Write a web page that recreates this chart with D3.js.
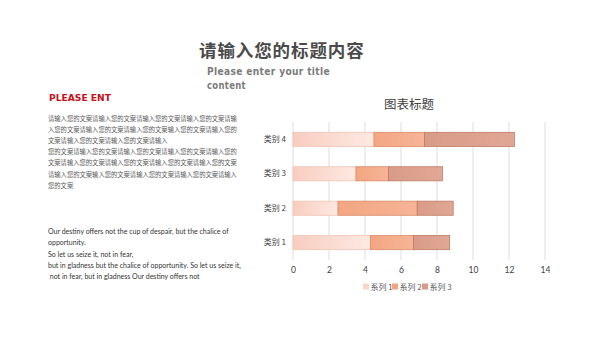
<!DOCTYPE html>
<html><head><meta charset="utf-8">
<script src="https://cdn.jsdelivr.net/npm/d3@7"></script>
<style>
html,body{margin:0;padding:0;background:#fff;}
svg{display:block;}
</style>
</head><body>
<svg id="c" width="600" height="338"></svg>
<script>
const categories = ["类别 1", "类别 2", "类别 3", "类别 4"];
const seriesNames = ["系列 1", "系列 2", "系列 3"];
const series1 = [4.3, 2.5, 3.5, 4.5];
const series2 = [2.4, 4.4, 1.8, 2.8];
const series3 = [2, 2, 3, 5];
const xTicks = [0, 2, 4, 6, 8, 10, 12, 14];

const cnLines = [
  "请输入您的文案请输入您的文案请输入您的文案请输入您的文案请输",
  "入您的文案请输入您的文案请输入您的文案输入您的文案请输入您的",
  "文案请输入您的文案请输入您的文案请输入",
  "您的文案请输入您的文案请输入您的文案请输入您的文案请输入您的",
  "文案请输入您的文案请输入您的文案请输入您的文案请输入您的文案",
  "请输入您的文案输入您的文案请输入您的文案请输入您的文案请输入",
  "您的文案"
];
const enLines = [
  "Our destiny offers not the cup of despair, but the chalice of",
  "opportunity.",
  "So let us seize it, not in fear,",
  "but in gladness but the chalice of opportunity. So let us seize it,",
  " not in fear, but in gladness Our destiny offers not"
];

const svg = d3.select("#c");
const cjk = "'Noto Sans CJK SC', 'Noto Sans', sans-serif";
const lat = "Lato,'Open Sans','Noto Sans','Liberation Sans',sans-serif";

// Header
svg.append("text").attr("x", 199).attr("y", 57)
  .attr("font-family", cjk).attr("font-weight", 700).attr("font-size", 17.5)
  .attr("letter-spacing", 0.9).attr("fill", "#4a4a4a").text("请输入您的标题内容");
svg.append("text").attr("x", 207).attr("y", 75)
  .attr("font-family", "'DejaVu Sans', sans-serif").attr("font-weight", 700).attr("font-size", 10.5)
  .attr("letter-spacing", 0.4).attr("fill", "#7b7b7b")
  .attr("textLength", 123).attr("lengthAdjust", "spacingAndGlyphs")
  .text("Please enter your title");
svg.append("text").attr("x", 207).attr("y", 89)
  .attr("font-family", "'DejaVu Sans', sans-serif").attr("font-weight", 700).attr("font-size", 10.5)
  .attr("letter-spacing", 0.4).attr("fill", "#7b7b7b")
  .attr("textLength", 39).attr("lengthAdjust", "spacingAndGlyphs")
  .text("content");

svg.append("text").attr("x", 49).attr("y", 101)
  .attr("font-family", "'DejaVu Sans', sans-serif").attr("font-weight", 700).attr("font-size", 9.5)
  .attr("fill", "#c8101a").attr("textLength", 62).attr("lengthAdjust", "spacingAndGlyphs")
  .text("PLEASE ENT");

svg.append("g").selectAll("text").data(cnLines).join("text")
  .attr("x", 48).attr("y", (d, i) => 121 + i * 11.1)
  .attr("font-family", cjk).attr("font-size", 6.3).attr("fill", "#595959")
  .text(d => d);

svg.append("g").selectAll("text").data(enLines).join("text")
  .attr("x", 48).attr("y", (d, i) => 234 + i * 11.3)
  .attr("font-family", lat).attr("font-size", 7).attr("fill", "#333")
  .attr("xml:space", "preserve").style("white-space", "pre")
  .text(d => d);

// Chart
const m = {left: 293, right: 545, top: 122, bottom: 260};
const x = d3.scaleLinear().domain([0, 14]).range([m.left, m.right]);
const y = d3.scaleBand().domain(categories.slice().reverse()).range([m.top, m.bottom]).paddingInner(0.59).paddingOuter(0.3);

svg.append("text").attr("x", 409).attr("y", 109).attr("text-anchor", "middle")
  .attr("font-family", cjk).attr("font-size", 12.5).attr("fill", "#404040").text("图表标题");

const defs = svg.append("defs");
const grads = [
  ["#f8cdbf", "#fde9e2"],
  ["#f3a682", "#f6b497"],
  ["#d99b87", "#dfa895"]
];
const strokes = ["#f3c3b3", "#d98a66", "#c07a63"];
const legendFill = ["#f9d6cb", "#f2a680", "#d99a86"];
grads.forEach((g, i) => {
  const lg = defs.append("linearGradient").attr("id", "g" + i).attr("x1", "0%").attr("x2", "100%");
  lg.append("stop").attr("offset", "0%").attr("stop-color", g[0]);
  lg.append("stop").attr("offset", "100%").attr("stop-color", g[1]);
});

// grid
svg.append("g").selectAll("line").data(xTicks).join("line")
  .attr("x1", d => x(d)).attr("x2", d => x(d))
  .attr("y1", m.top).attr("y2", m.bottom)
  .attr("stroke", "#e8e8e8").attr("stroke-width", 1.5);

// x axis
const xa = svg.append("g").attr("transform", `translate(0,${m.bottom})`)
  .call(d3.axisBottom(x).tickValues(xTicks).tickSize(0).tickPadding(7).tickFormat(d3.format("d")));
xa.select(".domain").remove();
xa.selectAll("text").attr("font-family", lat).attr("font-size", 8.5).attr("fill", "#404040");

// y axis
const ya = svg.append("g").attr("transform", `translate(${m.left},0)`)
  .call(d3.axisLeft(y).tickSize(0).tickPadding(7));
ya.select(".domain").remove();
ya.selectAll("text").attr("font-family", cjk).attr("font-size", 8).attr("fill", "#404040");

// stacked bars
const rows = categories.map((c, i) => ({cat: c, s0: series1[i], s1: series2[i], s2: series3[i]}));
const stack = d3.stack().keys(["s0", "s1", "s2"])(rows);
svg.append("g").selectAll("g").data(stack).join("g")
  .attr("fill", (d, i) => `url(#g${i})`)
  .attr("stroke", (d, i) => strokes[i]).attr("stroke-width", 0.8)
  .selectAll("rect").data(d => d).join("rect")
  .attr("x", d => x(d[0])).attr("width", d => x(d[1]) - x(d[0]))
  .attr("y", d => y(d.data.cat)).attr("height", y.bandwidth());

// legend
const lgX = [363, 392, 422];
const lg = svg.append("g").selectAll("g").data(seriesNames).join("g")
  .attr("transform", (d, i) => `translate(${lgX[i]},287)`);
lg.append("rect").attr("x", 0).attr("y", -3.5).attr("width", 6).attr("height", 6)
  .attr("fill", (d, i) => legendFill[i]);
lg.append("text").attr("x", 7.5).attr("y", 3).attr("font-family", cjk).attr("font-size", 8)
  .attr("fill", "#595959").text(d => d);
</script>
</body></html>
